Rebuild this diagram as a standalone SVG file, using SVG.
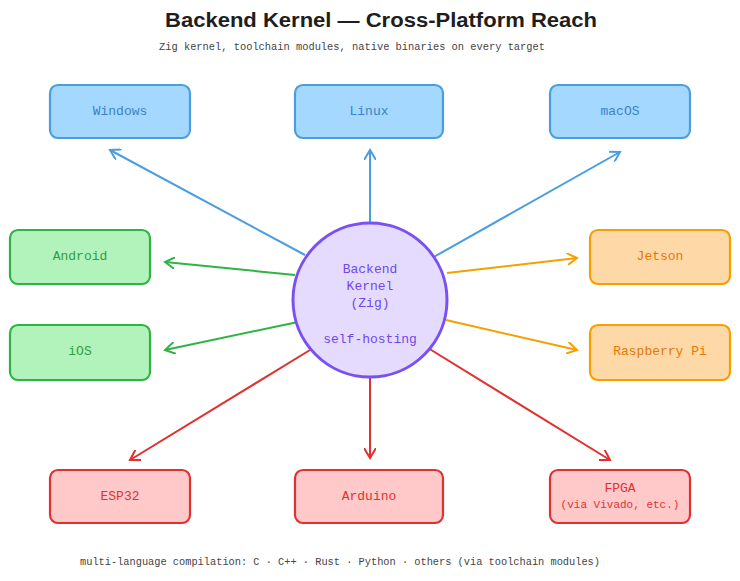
<svg xmlns="http://www.w3.org/2000/svg" width="740" height="581" viewBox="0 0 740 581">
<style>
text{font-family:"Liberation Mono","DejaVu Sans Mono",monospace;text-anchor:middle;dominant-baseline:middle}
.t{font-size:20px;font-weight:bold;fill:#1e1e1e;font-family:"Liberation Sans",sans-serif}
.s{font-size:11.5px;fill:#444}
.l{font-size:13px}
.b rect{stroke-width:2.2}
.blue rect{fill:#a5d8ff;stroke:#4a9ee0}.blue text{fill:#3b82c4}
.green rect{fill:#b2f2bb;stroke:#2fb344}.green text{fill:#2f9e44}
.orange rect{fill:#ffd8a8;stroke:#f59f00}.orange text{fill:#e67700}
.red rect{fill:#ffc9c9;stroke:#e03131}.red text{fill:#e03131}
.c path{fill:none;stroke-width:2}
</style>
<defs>
<marker id="ab" markerWidth="12" markerHeight="12" refX="10" refY="6" orient="auto" markerUnits="userSpaceOnUse"><path d="M0,0 L10,6 L0,12" fill="none" stroke="#4a9ee0" stroke-width="2"/></marker>
<marker id="ag" markerWidth="12" markerHeight="12" refX="10" refY="6" orient="auto" markerUnits="userSpaceOnUse"><path d="M0,0 L10,6 L0,12" fill="none" stroke="#2fb344" stroke-width="2"/></marker>
<marker id="ao" markerWidth="12" markerHeight="12" refX="10" refY="6" orient="auto" markerUnits="userSpaceOnUse"><path d="M0,0 L10,6 L0,12" fill="none" stroke="#f59f00" stroke-width="2"/></marker>
<marker id="ar" markerWidth="12" markerHeight="12" refX="10" refY="6" orient="auto" markerUnits="userSpaceOnUse"><path d="M0,0 L10,6 L0,12" fill="none" stroke="#e03131" stroke-width="2"/></marker>
</defs>
<rect width="740" height="581" fill="#fff"/>
<text class="t" x="381" y="22" textLength="432" lengthAdjust="spacingAndGlyphs">Backend Kernel — Cross-Platform Reach</text>
<text class="s" x="352" y="47" textLength="386" lengthAdjust="spacingAndGlyphs">Zig kernel, toolchain modules, native binaries on every target</text>
<g class="c">
<path d="M305,255 L110,150" stroke="#4a9ee0" marker-end="url(#ab)"/>
<path d="M370,228 L370,150" stroke="#4a9ee0" marker-end="url(#ab)"/>
<path d="M432,258 L620,152" stroke="#4a9ee0" marker-end="url(#ab)"/>
<path d="M295,275 L165,262" stroke="#2fb344" marker-end="url(#ag)"/>
<path d="M298,322 L165,350" stroke="#2fb344" marker-end="url(#ag)"/>
<path d="M447,273 L577,258" stroke="#f59f00" marker-end="url(#ao)"/>
<path d="M446,320 L577,350" stroke="#f59f00" marker-end="url(#ao)"/>
<path d="M310,350 L130,460" stroke="#e03131" marker-end="url(#ar)"/>
<path d="M370,378 L370,458" stroke="#e03131" marker-end="url(#ar)"/>
<path d="M428,348 L610,460" stroke="#e03131" marker-end="url(#ar)"/>
</g>
<g id="kernel"><circle cx="370" cy="300" r="77" fill="#e5dbff" stroke="#7950f2" stroke-width="3"/>
<text class="l" x="370" y="270" fill="#7048e8">Backend</text><text class="l" x="370" y="287" fill="#7048e8">Kernel</text><text class="l" x="370" y="304" fill="#7048e8">(Zig)</text><text class="l" x="370" y="340" fill="#7048e8">self-hosting</text></g>
<g id="windows" class="b blue"><rect x="50" y="85" width="140" height="53" rx="8"/><text class="l" x="120" y="112">Windows</text></g>
<g id="linux" class="b blue"><rect x="295" y="85" width="148" height="53" rx="8"/><text class="l" x="369" y="112">Linux</text></g>
<g id="macos" class="b blue"><rect x="550" y="85" width="140" height="53" rx="8"/><text class="l" x="620" y="112">macOS</text></g>
<g id="android" class="b green"><rect x="10" y="230" width="140" height="54" rx="8"/><text class="l" x="80" y="257">Android</text></g>
<g id="ios" class="b green"><rect x="10" y="325" width="140" height="55" rx="8"/><text class="l" x="80" y="352">iOS</text></g>
<g id="jetson" class="b orange"><rect x="590" y="230" width="140" height="54" rx="8"/><text class="l" x="660" y="257">Jetson</text></g>
<g id="rpi" class="b orange"><rect x="590" y="325" width="140" height="55" rx="8"/><text class="l" x="660" y="352">Raspberry Pi</text></g>
<g id="esp32" class="b red"><rect x="50" y="470" width="140" height="53" rx="8"/><text class="l" x="120" y="497">ESP32</text></g>
<g id="arduino" class="b red"><rect x="295" y="470" width="148" height="53" rx="8"/><text class="l" x="369" y="497">Arduino</text></g>
<g id="fpga" class="b red"><rect x="550" y="470" width="140" height="53" rx="8"/><text class="l" x="620" y="489">FPGA</text><text x="620" y="505" style="font-size:11px">(via Vivado, etc.)</text></g>
<text class="s" x="340" y="562" textLength="520" lengthAdjust="spacingAndGlyphs">multi-language compilation: C · C++ · Rust · Python · others (via toolchain modules)</text>
</svg>
